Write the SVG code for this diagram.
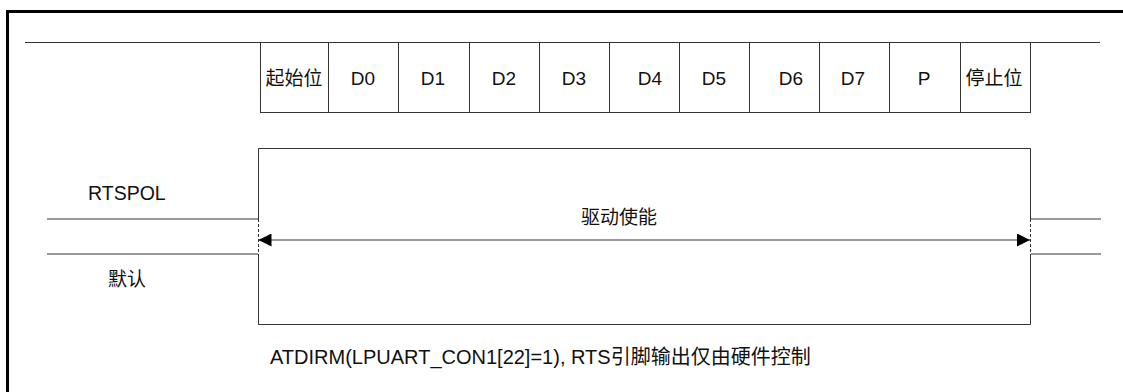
<svg xmlns="http://www.w3.org/2000/svg" width="1123" height="392" viewBox="0 0 1123 392">
<style>
.ln{stroke:#333;stroke-width:1;fill:none}
.t{font-family:"Liberation Sans","Noto Sans CJK SC",sans-serif;font-size:19px;fill:#111}
.c{text-anchor:middle}
</style>
<defs>
<marker id="ah" viewBox="0 0 13 13" refX="13" refY="6.5" markerWidth="13" markerHeight="13" markerUnits="userSpaceOnUse" orient="auto-start-reverse">
<path d="M0,0 L13,6.5 L0,13 Z" fill="#000"/>
</marker>
</defs>
<rect x="7.5" y="11.5" width="1130" height="400" fill="#fff" stroke="#000" stroke-width="3"/>
<g id="frame-bits">
<line class="ln" x1="25" y1="42.5" x2="1100" y2="42.5"/>
<line class="ln" x1="260" y1="112.5" x2="1030" y2="112.5"/>
<g class="ln">
<line x1="260.5" y1="42" x2="260.5" y2="113"/>
<line x1="328.5" y1="42" x2="328.5" y2="113"/>
<line x1="398.5" y1="42" x2="398.5" y2="113"/>
<line x1="469.5" y1="42" x2="469.5" y2="113"/>
<line x1="539.5" y1="42" x2="539.5" y2="113"/>
<line x1="609.5" y1="42" x2="609.5" y2="113"/>
<line x1="679.5" y1="42" x2="679.5" y2="113"/>
<line x1="749.5" y1="42" x2="749.5" y2="113"/>
<line x1="819.5" y1="42" x2="819.5" y2="113"/>
<line x1="889.5" y1="42" x2="889.5" y2="113"/>
<line x1="960.5" y1="42" x2="960.5" y2="113"/>
<line x1="1030.5" y1="42" x2="1030.5" y2="113"/>
</g>
</g>
<g id="bit-start"><text class="t c" x="294" y="85">起始位</text></g>
<g id="bit-d0"><text class="t c" x="363" y="85">D0</text></g>
<g id="bit-d1"><text class="t c" x="433" y="85">D1</text></g>
<g id="bit-d2"><text class="t c" x="504" y="85">D2</text></g>
<g id="bit-d3"><text class="t c" x="574" y="85">D3</text></g>
<g id="bit-d4"><text class="t c" x="650" y="85">D4</text></g>
<g id="bit-d5"><text class="t c" x="714" y="85">D5</text></g>
<g id="bit-d6"><text class="t c" x="791" y="85">D6</text></g>
<g id="bit-d7"><text class="t c" x="853" y="85">D7</text></g>
<g id="bit-p"><text class="t c" x="924" y="85">P</text></g>
<g id="bit-stop"><text class="t c" x="994" y="85">停止位</text></g>
<g id="drive-box">
<path class="ln" d="M258.5,219 V148.5 H1030.5 V219 M1030.5,254 V324.5 H258.5 V254"/>
<line class="ln" x1="258.5" y1="219" x2="258.5" y2="254" stroke-dasharray="3,2"/>
<line class="ln" x1="1030.5" y1="219" x2="1030.5" y2="254" stroke-dasharray="3,2"/>
<text class="t c" x="619" y="224">驱动使能</text>
</g>
<g id="rtspol"><text class="t" x="88" y="200" style="font-size:19.5px">RTSPOL</text></g>
<g id="default"><text class="t" x="108" y="286">默认</text></g>
<g id="connectors">
<line class="ln" x1="47" y1="219" x2="258" y2="219"/>
<line class="ln" x1="47" y1="254" x2="258" y2="254"/>
<line class="ln" x1="1031" y1="219" x2="1101" y2="219"/>
<line class="ln" x1="1031" y1="254" x2="1101" y2="254"/>
<line class="ln" x1="258.5" y1="240" x2="1030" y2="240" marker-start="url(#ah)" marker-end="url(#ah)"/>
</g>
<g id="caption"><text class="t" x="270" y="364" style="font-size:20px">ATDIRM(LPUART_CON1[22]=1), RTS引脚输出仅由硬件控制</text></g>
</svg>
